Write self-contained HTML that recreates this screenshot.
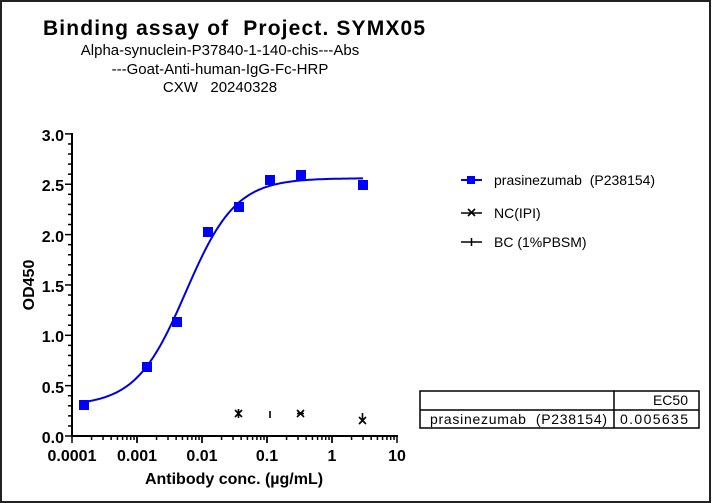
<!DOCTYPE html>
<html><head><style>
body{margin:0;background:#fff;}
svg{display:block;font-family:"Liberation Sans",Arial,sans-serif;}
text{white-space:pre;}
</style></head><body>
<svg id="s" width="712" height="503" viewBox="0 0 712 503" xmlns="http://www.w3.org/2000/svg">
<rect x="1" y="1" width="709" height="501" fill="#fff" stroke="#222" stroke-width="2"/>
<text x="43" y="35" font-size="21" font-weight="bold" textLength="382" lengthAdjust="spacing">Binding assay of  Project. SYMX05</text>
<text x="220" y="55" text-anchor="middle" font-size="15">Alpha-synuclein-P37840-1-140-chis---Abs</text>
<text x="220" y="74" text-anchor="middle" font-size="15">---Goat-Anti-human-IgG-Fc-HRP</text>
<text x="220" y="92" text-anchor="middle" font-size="15">CXW   20240328</text>
<g id="axes" stroke="#000" stroke-width="2" fill="none">
<line x1="72" y1="133" x2="72" y2="437"/>
<line x1="71" y1="436" x2="398" y2="436"/>
</g>
<g id="ticks" stroke="#000" stroke-width="1.5"></g>
<g font-size="16" font-weight="bold" text-anchor="end">
<text x="64" y="141">3.0</text><text x="64" y="191">2.5</text><text x="64" y="242">2.0</text>
<text x="64" y="292">1.5</text><text x="64" y="342">1.0</text><text x="64" y="393">0.5</text><text x="64" y="443">0.0</text>
</g>
<g font-size="16" font-weight="bold" text-anchor="middle">
<text x="72" y="461">0.0001</text><text x="137" y="461">0.001</text><text x="202" y="461">0.01</text>
<text x="267" y="461">0.1</text><text x="332" y="461">1</text><text x="397" y="461">10</text>
</g>
<text x="234" y="484" text-anchor="middle" font-size="16" font-weight="bold">Antibody conc. (µg/mL)</text>
<text transform="translate(34,285) rotate(-90)" text-anchor="middle" font-size="16" font-weight="bold">OD450</text>
<path id="curve" fill="none" stroke="#0000e0" stroke-width="2"/>
<g fill="#0000ff">
<rect x="79" y="400" width="10" height="10"/><rect x="142" y="362" width="10" height="10"/>
<rect x="172" y="317" width="10" height="10"/><rect x="203" y="227" width="10" height="10"/>
<rect x="234" y="202" width="10" height="10"/><rect x="265" y="175" width="10" height="10"/>
<rect x="296" y="170" width="10" height="10"/><rect x="358" y="180" width="10" height="10"/>
</g>
<g stroke="#000" stroke-width="1.6">
<path d="M235 410l7 7M242 410l-7 7M238.5 409v9"/>
<path d="M270 411v7"/>
<path d="M297 410l7 7M304 410l-7 7M297 413.5h7"/>
<path d="M359 417l7 7M366 417l-7 7M362.5 413v7"/>
</g>
<g font-size="14">
<line x1="461" y1="180" x2="482" y2="180" stroke="#0000ff" stroke-width="2"/><rect x="467" y="176" width="8" height="8" fill="#0000ff"/>
<text x="494" y="185">prasinezumab  (P238154)</text>
<line x1="461" y1="213" x2="482" y2="213" stroke="#000" stroke-width="1.5"/><path d="M468 209l7 7M475 209l-7 7" stroke="#000" stroke-width="1.6"/>
<text x="494" y="218">NC(IPI)</text>
<line x1="461" y1="242" x2="482" y2="242" stroke="#000" stroke-width="1.5"/><line x1="471.5" y1="238" x2="471.5" y2="246" stroke="#000" stroke-width="1.5"/>
<text x="494" y="247">BC (1%PBSM)</text>
</g>
<g stroke="#000" stroke-width="1.5" fill="none">
<rect x="420" y="391" width="279" height="37"/>
<line x1="420" y1="410" x2="699" y2="410"/>
<line x1="614" y1="391" x2="614" y2="428"/>
</g>
<text x="688" y="405" font-size="14" text-anchor="end">EC50</text>
<text x="430" y="424" font-size="14" textLength="177" lengthAdjust="spacing">prasinezumab  (P238154)</text>
<text x="620" y="424" font-size="14" textLength="68" lengthAdjust="spacing">0.005635</text>
</svg>
<script>
var ns="http://www.w3.org/2000/svg",t=document.getElementById("ticks");
function ln(a,b,c,d){var l=document.createElementNS(ns,"line");l.setAttribute("x1",a);l.setAttribute("y1",b);l.setAttribute("x2",c);l.setAttribute("y2",d);t.appendChild(l);}
for(var i=0;i<=30;i++){var y=436-i*100.7/10;ln(i%5==0?65:68,y,72,y);}
for(var d=0;d<5;d++)for(var k=1;k<=10;k++){var x=72+65*(d+Math.log10(k));ln(x,436,x,k==1||k==10?443:440);}
var p="";for(var x=84;x<=363;x+=1){var lx=-4+(x-72)/65,c=Math.pow(10,lx);var v=0.3+2.26/(1+Math.pow(0.005635/c,1.13));var y=436-v*100.7;p+=(x==84?"M":"L")+x+" "+y.toFixed(1);}
document.getElementById("curve").setAttribute("d",p);
</script>
</body></html>
